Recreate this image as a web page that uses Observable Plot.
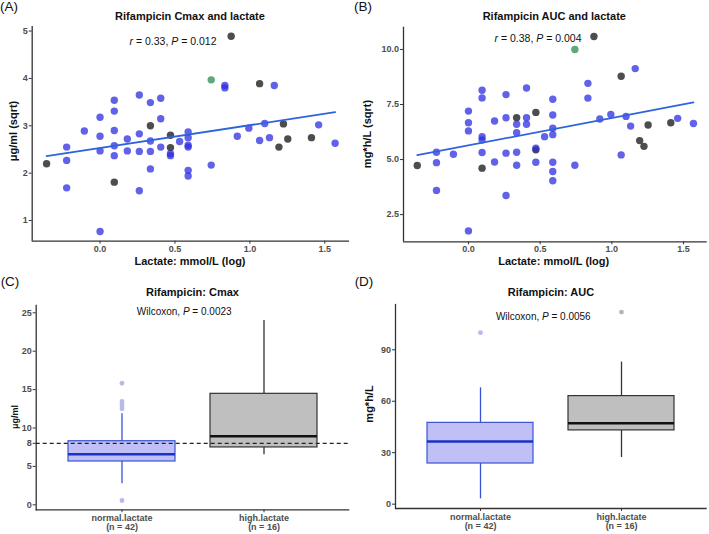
<!DOCTYPE html>
<html>
<head>
<meta charset="utf-8">
<script src="https://cdn.jsdelivr.net/npm/d3@7"></script>
<script src="https://cdn.jsdelivr.net/npm/@observablehq/plot@0.6"></script>
<style>
  html, body { margin: 0; padding: 0; background: #fff; }
  #root { position: relative; width: 709px; height: 534px; background: #fff; font-family: "Liberation Sans", Arial, sans-serif; color: #111; overflow: hidden; }
  .panel { position: absolute; }
  .lbl { position: absolute; white-space: nowrap; transform: translate(-50%, -50%); line-height: 1; }
</style>
</head>
<body>
<div id="root"></div>
<script>
// ---------- Data: panel A (sqrt Cmax vs log lactate) ----------
const lactateA = [-0.357, 0.095, 0.336, 0.470, 0.470, 0.875, 1.065, 1.194, 1.224, 1.253, 1.411,
  0.742,
  -0.223, -0.223, -0.223, -0.105, 0, 0, 0, 0, 0.095, 0.095, 0.095, 0.095, 0.095, 0.182, 0.182,
  0.262, 0.262, 0.262, 0.262, 0.336, 0.336, 0.336, 0.336, 0.405, 0.405, 0.405, 0.470, 0.470,
  0.531, 0.588, 0.588, 0.588, 0.588, 0.588, 0.588, 0.742, 0.833, 0.833, 0.916, 0.993, 1.065,
  1.099, 1.131, 1.163, 1.459, 1.569];
const cmaxSqrtA = [2.20, 1.81, 3.00, 2.80, 2.54, 4.89, 3.89, 2.55, 3.04, 2.72, 2.75,
  3.97,
  2.55, 2.27, 1.69, 2.89, 3.18, 2.78, 2.47, 0.77, 3.54, 3.31, 2.90, 2.58, 2.37, 2.72, 2.47,
  3.65, 2.83, 2.46, 1.63, 3.49, 2.68, 2.46, 2.09, 3.58, 3.15, 2.55, 2.41, 2.37,
  2.67, 2.87, 2.75, 2.59, 2.55, 2.06, 1.94, 2.17, 3.85, 3.80, 2.78, 2.95, 2.69,
  3.05, 2.75, 3.85, 3.02, 2.63];
const groupA = [...Array(11).fill("grey"), "green", ...Array(46).fill("blue")];

// ---------- Data: panel B (sqrt AUC vs log lactate) ----------
const lactateB = [-0.357, 0.095, 0.336, 0.470, 0.470, 0.875, 1.065, 1.194, 1.224, 1.253, 1.411,
  0.742,
  -0.223, -0.223, -0.223, -0.105, 0, 0, 0, 0, 0.095, 0.095, 0.095, 0.095, 0.095, 0.182, 0.182,
  0.262, 0.262, 0.262, 0.262, 0.336, 0.336, 0.336, 0.336, 0.405, 0.405, 0.405, 0.470, 0.470,
  0.531, 0.588, 0.588, 0.588, 0.588, 0.588, 0.588, 0.588, 0.742, 0.833, 0.833, 0.916, 0.993,
  1.065, 1.099, 1.131, 1.163, 1.459, 1.569];
const aucSqrtB = [4.73, 4.61, 6.90, 7.14, 5.44, 10.59, 8.78, 5.86, 5.60, 6.57, 6.67,
  10.0,
  5.33, 4.86, 3.60, 5.24, 7.20, 6.67, 6.30, 1.76, 8.15, 7.80, 6.04, 5.89, 5.32, 6.75, 4.89,
  7.95, 6.90, 5.29, 3.37, 6.60, 6.22, 5.33, 4.74, 8.25, 6.90, 6.60, 5.51, 4.88,
  6.04, 7.74, 7.02, 6.42, 6.13, 4.88, 4.46, 4.04, 4.74, 8.46, 7.79, 6.84, 7.05,
  5.21, 6.96, 6.52, 9.13, 6.87, 6.64];
const groupB = [...Array(11).fill("grey"), "green", ...Array(47).fill("blue")];

// ---------- Data: panels C and D (box plots) ----------
const groups = ["normal.lactate", "high.lactate"];
const groupN = [42, 16];
const cmaxLo = [2.73, 6.51], cmaxQ1 = [5.64, 7.47], cmaxMed = [6.59, 8.94], cmaxQ3 = [8.28, 14.45], cmaxHi = [11.85, 24.0];
const cmaxOutGroup = ["normal.lactate", "normal.lactate", "normal.lactate", "normal.lactate", "normal.lactate", "normal.lactate"];
const cmaxOutValue = [15.83, 13.45, 13.15, 12.85, 12.5, 0.56];
const cmaxTarget = [8];
const aucLo = [3.1, 27.2], aucQ1 = [23.7, 43.0], aucMed = [36.5, 47.2], aucQ3 = [47.4, 63.0], aucHi = [67.8, 82.8];
const aucOutGroup = ["normal.lactate", "high.lactate"];
const aucOutValue = [100.0, 112.0];

const lactTicks = [0, 0.5, 1, 1.5];
const cmaxSqrtTicks = [1, 2, 3, 4, 5];
const aucSqrtTicks = [2.5, 5, 7.5, 10];
const cmaxTicks = [0, 5, 8, 10, 15, 20, 25];
const aucTicks = [0, 30, 60, 90];

// ---------- Styles ----------
const dotColour = { blue: "#2d2de0", grey: "#111111", green: "#2a8a52" };
const boxFill = { "normal.lactate": "#c0c0f7", "high.lactate": "#bfbfbf" };
const boxStroke = { "normal.lactate": "#3a52d6", "high.lactate": "#333333" };
const medStroke = { "normal.lactate": "#1a33c4", "high.lactate": "#111111" };
const outFill = { "normal.lactate": "#b9b9ec", "high.lactate": "#b5b5b5" };
const axisColour = "#333";
const tickText = "#4d4d4d";
const FONT = "'Liberation Sans', Arial, sans-serif";

const root = document.getElementById("root");
function place(node, left, top) {
  const d = document.createElement("div");
  d.className = "panel";
  d.style.left = left + "px";
  d.style.top = top + "px";
  d.appendChild(node);
  root.appendChild(d);
}
function label(html, x, y, size, weight, rotate) {
  const d = document.createElement("div");
  d.className = "lbl";
  d.innerHTML = html;
  d.style.left = x + "px";
  d.style.top = y + "px";
  d.style.fontSize = size + "px";
  d.style.fontWeight = weight || "normal";
  if (rotate) d.style.transform = "translate(-50%, -50%) rotate(-90deg)";
  root.appendChild(d);
}

const svgStyle = { fontFamily: FONT, fontSize: "9px", background: "transparent", overflow: "visible", color: tickText };
const xDomain = [-0.453, 1.665];

function scatter(xs, ys, gs, yDomain, yTicks, yFmt, w, h, m, xPad) {
  const data = xs.map((x, i) => ({ x, y: ys[i], g: gs[i] }));
  return Plot.plot({
    width: w, height: h,
    marginLeft: m[0], marginRight: m[1], marginTop: m[2], marginBottom: m[3],
    style: svgStyle,
    x: { domain: xDomain },
    y: { domain: yDomain },
    color: { type: "identity" },
    marks: [
      Plot.ruleX([xDomain[0]], { stroke: axisColour, strokeWidth: 1.3 }),
      Plot.ruleY([yDomain[0]], { stroke: axisColour, strokeWidth: 1.3 }),
      Plot.axisX({ ticks: lactTicks, tickFormat: d3.format(".1f"), tickSize: 3, tickPadding: xPad, fontWeight: "bold", stroke: axisColour, fill: tickText, label: null }),
      Plot.axisY({ ticks: yTicks, tickFormat: yFmt, tickSize: 3, tickPadding: 1.5, fontWeight: "bold", stroke: axisColour, fill: tickText, label: null }),
      Plot.dot(data, { x: "x", y: "y", r: 3.7, fill: d => dotColour[d.g], fillOpacity: 0.75, stroke: "none" }),
      Plot.linearRegressionY(data, { x: "x", y: "y", stroke: "#2f63dd", strokeWidth: 1.8, ci: 0 })
    ]
  });
}

function boxes(lo, q1, med, q3, hi, outG, outV, yDomain, yTicks, extra, w, h, m) {
  const b = groups.map((g, i) => ({ g, lo: lo[i], q1: q1[i], med: med[i], q3: q3[i], hi: hi[i] }));
  const o = outG.map((g, i) => ({ g, v: outV[i] }));
  return Plot.plot({
    width: w, height: h,
    marginLeft: m[0], marginRight: m[1], marginTop: m[2], marginBottom: m[3],
    style: svgStyle,
    x: { type: "band", domain: groups, paddingInner: 0.25, paddingOuter: 0.225 },
    y: { domain: yDomain },
    color: { type: "identity" },
    marks: [
      Plot.ruleY([yDomain[0]], { stroke: axisColour, strokeWidth: 1.3 }),
      Plot.frame({ anchor: "left", stroke: axisColour, strokeWidth: 1.3 }),
      Plot.ruleX(b, { x: "g", y1: "lo", y2: "q1", stroke: d => boxStroke[d.g], strokeWidth: 1.3 }),
      Plot.ruleX(b, { x: "g", y1: "q3", y2: "hi", stroke: d => boxStroke[d.g], strokeWidth: 1.3 }),
      Plot.barY(b, { x: "g", y1: "q1", y2: "q3", fill: d => boxFill[d.g], stroke: d => boxStroke[d.g], strokeWidth: 1.2 }),
      Plot.tickY(b, { x: "g", y: "med", stroke: d => medStroke[d.g], strokeWidth: 2.5 }),
      Plot.dot(o, { x: "g", y: "v", r: 2.4, fill: d => outFill[d.g], stroke: "none" }),
      ...extra,
      Plot.axisX({ tickFormat: d => d + "\n(n = " + groupN[groups.indexOf(d)] + ")", tickSize: 3, tickPadding: 1.5, fontWeight: "bold", stroke: axisColour, fill: tickText, label: null, lineHeight: 1.05 }),
      Plot.axisY({ ticks: yTicks, tickSize: 3, tickPadding: 1.5, fontWeight: "bold", stroke: axisColour, fill: tickText, label: null })
    ]
  });
}

// Panel A
place(scatter(lactateA, cmaxSqrtA, groupA, [0.564, 5.096], cmaxSqrtTicks, d3.format("d"), 354, 270, [31.7, 5, 26, 29.3], 1), 0, 0);
// Panel B
place(scatter(lactateB, aucSqrtB, groupB, [1.265, 11.01], aucSqrtTicks, d3.format(".1f"), 355, 270, [49, 2.3, 26.7, 28.7], 0.5), 354, 0);
// Panel C
place(boxes(cmaxLo, cmaxQ1, cmaxMed, cmaxQ3, cmaxHi, cmaxOutGroup, cmaxOutValue, [-0.65, 25.95], cmaxTicks,
  [Plot.ruleY(cmaxTarget, { stroke: "#222", strokeWidth: 1.2, strokeDasharray: "4,3" })],
  354, 269, [35.7, 4.7, 40, 24.7]), 0, 265);
// Panel D
place(boxes(aucLo, aucQ1, aucMed, aucQ3, aucHi, aucOutGroup, aucOutValue, [-2.53, 116.4], aucTicks, [],
  355, 269, [41, 2.3, 39, 26]), 354, 265);

// ---------- Text ----------
label("(A)", 9, 7, 13.5);
label("(B)", 363, 7, 13.5);
label("(C)", 10, 282.3, 13.5);
label("(D)", 364, 282.3, 13.5);
label("Rifampicin Cmax and lactate", 190, 15.7, 11, "bold");
label("Rifampicin AUC and lactate", 554.3, 15.7, 11, "bold");
label("Rifampicin: Cmax", 192.5, 292.3, 11, "bold");
label("Rifampicin: AUC", 551, 292.3, 11, "bold");
label("<i>r</i> = 0.33, <i>P</i> = 0.012", 173, 40.7, 10.5);
label("<i>r</i> = 0.38, <i>P</i> = 0.004", 538, 38.3, 10.5);
label("Wilcoxon, <i>P</i> = 0.0023", 184.2, 312.3, 10);
label("Wilcoxon, <i>P</i> = 0.0056", 543.3, 316.7, 10);
label("Lactate: mmol/L (log)", 190, 261, 11, "bold");
label("Lactate: mmol/L (log)", 553.7, 261, 11, "bold");
label("μg/ml (sqrt)", 13.3, 130.8, 11, "bold", true);
label("mg*h/L (sqrt)", 367.3, 134, 11, "bold", true);
label("μg/ml", 15, 416.7, 9, "bold", true);
label("mg*h/L", 369, 404.3, 11, "bold", true);
</script>
</body>
</html>
